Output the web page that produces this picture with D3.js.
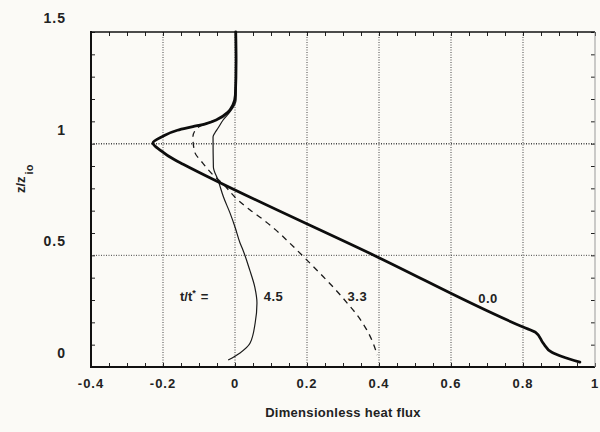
<!DOCTYPE html>
<html>
<head>
<meta charset="utf-8">
<script src="https://cdn.jsdelivr.net/npm/d3@7"></script>
<style>
  html, body { margin: 0; padding: 0; background: #fbfaf6; }
  svg { display: block; }
  text { font-family: "Liberation Sans", Arial, sans-serif; font-weight: bold; fill: #222; }
</style>
</head>
<body>
<svg id="chart" width="600" height="432"></svg>
<script>
// ---- data (flux, z/zio) ----
const xTickValues = [-0.4, -0.2, 0, 0.2, 0.4, 0.6, 0.8, 1];
const xTickLabels = ["-0.4", "-0.2", "0", "0.2", "0.4", "0.6", "0.8", "1"];
const yTickValues = [0, 0.5, 1, 1.5];
const yTickLabels = ["0", "0.5", "1", "1.5"];

const curve00 = [
  [0.002, 1.500], [0.003, 1.375], [0.001, 1.218], [-0.006, 1.173], [-0.020, 1.140],
  [-0.050, 1.108], [-0.080, 1.090], [-0.117, 1.076], [-0.160, 1.060], [-0.200, 1.033],
  [-0.228, 1.003], [-0.205, 0.968], [-0.170, 0.930], [-0.144, 0.908], [0.394, 0.494],
  [0.800, 0.179], [0.835, 0.155], [0.856, 0.107], [0.880, 0.066], [0.910, 0.046],
  [0.958, 0.022]
];
const curve33 = [
  [0.002, 1.500], [0.003, 1.375], [0.001, 1.218], [-0.006, 1.173], [-0.020, 1.140],
  [-0.050, 1.108], [-0.080, 1.090], [-0.105, 1.070], [-0.117, 1.030], [-0.112, 0.963],
  [-0.090, 0.914], [-0.061, 0.860], [-0.036, 0.824], [0.008, 0.748], [0.042, 0.703],
  [0.080, 0.658], [0.113, 0.614], [0.152, 0.555], [0.191, 0.493], [0.246, 0.403],
  [0.280, 0.345], [0.316, 0.278], [0.339, 0.233], [0.366, 0.166], [0.380, 0.121],
  [0.395, 0.054]
];
const curve45 = [
  [0.003, 1.500], [0.003, 1.375], [0.003, 1.196], [-0.014, 1.142], [-0.033, 1.106],
  [-0.047, 1.070], [-0.056, 1.048], [-0.061, 1.030], [-0.060, 0.896], [-0.047, 0.837],
  [-0.032, 0.761], [-0.014, 0.690], [0.000, 0.627], [0.014, 0.555], [0.022, 0.524],
  [0.041, 0.434], [0.055, 0.358], [0.061, 0.287], [0.056, 0.197], [0.042, 0.107],
  [0.014, 0.063], [-0.019, 0.031]
];
const curveLabels = [
  { text: "4.5", flux: 0.107, z: 0.32 },
  { text: "3.3", flux: 0.340, z: 0.32 },
  { text: "0.0", flux: 0.703, z: 0.31 }
];

// ---- layout ----
const svg = d3.select("#chart");
const mLeft = 91, mRight = 595, mTop = 32, mBottom = 367;
const x = d3.scaleLinear().domain([-0.4, 1]).range([mLeft, mRight]);
const y = d3.scaleLinear().domain([0, 1.5]).range([mBottom, mTop]);

// grid lines (dotted)
const grid = svg.append("g");
grid.selectAll("line.vg").data(xTickValues.filter(v => v > -0.4 && v < 1)).enter()
  .append("line")
  .attr("x1", d => x(d)).attr("x2", d => x(d))
  .attr("y1", mTop).attr("y2", mBottom)
  .attr("stroke", "#444").attr("stroke-width", 1).attr("stroke-dasharray", "1,1.5");
grid.selectAll("line.hg").data([0.5, 1]).enter()
  .append("line")
  .attr("x1", mLeft).attr("x2", mRight)
  .attr("y1", d => y(d)).attr("y2", d => y(d))
  .attr("stroke", "#444").attr("stroke-width", d => d === 1 ? 1.5 : 1)
  .attr("stroke-dasharray", "1,1.5");

// minor ticks via d3 axes (inward)
const xMinor = d3.range(-0.4, 1.0001, 0.05);
const yMinor = d3.range(0, 1.5001, 0.1);
function styleAxis(g) {
  g.select(".domain").remove();
  g.selectAll(".tick line").attr("stroke", "#222").attr("stroke-width", 1);
  g.selectAll(".tick text").remove();
}
svg.append("g").attr("transform", `translate(0,${mBottom})`)
  .call(d3.axisBottom(x).tickValues(xMinor).tickSize(-4).tickFormat("")).call(styleAxis);
svg.append("g").attr("transform", `translate(0,${mTop})`)
  .call(d3.axisTop(x).tickValues(xMinor).tickSize(-4).tickFormat("")).call(styleAxis);
svg.append("g").attr("transform", `translate(${mLeft},0)`)
  .call(d3.axisLeft(y).tickValues(yMinor).tickSize(-4).tickFormat("")).call(styleAxis);
svg.append("g").attr("transform", `translate(${mRight},0)`)
  .call(d3.axisRight(y).tickValues(yMinor).tickSize(-4).tickFormat("")).call(styleAxis);

// frame
svg.append("line").attr("x1", mLeft).attr("x2", mLeft).attr("y1", mTop - 1).attr("y2", mBottom + 1)
  .attr("stroke", "#111").attr("stroke-width", 2);
svg.append("line").attr("x1", mLeft).attr("x2", mRight).attr("y1", mBottom).attr("y2", mBottom)
  .attr("stroke", "#111").attr("stroke-width", 2);
svg.append("line").attr("x1", mLeft).attr("x2", mRight).attr("y1", mTop).attr("y2", mTop)
  .attr("stroke", "#111").attr("stroke-width", 1.5);
svg.append("line").attr("x1", mRight).attr("x2", mRight).attr("y1", mTop).attr("y2", mBottom)
  .attr("stroke", "#999").attr("stroke-width", 1);

// tick labels
svg.append("g").selectAll("text").data(xTickValues).enter().append("text")
  .attr("x", d => x(d)).attr("y", mBottom + 21)
  .attr("text-anchor", "middle").attr("font-size", 13).attr("letter-spacing", 1)
  .text((d, i) => xTickLabels[i]);
svg.append("g").selectAll("text").data(yTickValues).enter().append("text")
  .attr("x", 66).attr("y", d => y(d) - 9)
  .attr("text-anchor", "end").attr("font-size", 14).attr("letter-spacing", 1)
  .text((d, i) => yTickLabels[i]);

// axis titles
svg.append("text").attr("x", (mLeft + mRight) / 2).attr("y", 417)
  .attr("text-anchor", "middle").attr("font-size", 13).attr("letter-spacing", 0.3)
  .text("Dimensionless heat flux");
const yt = svg.append("text").attr("transform", "translate(25,193) rotate(-90)")
  .attr("font-size", 13);
yt.append("tspan").text("z/z");
yt.append("tspan").attr("dy", 8).attr("dx", 2).attr("font-size", 11).text("io");

// curves
const line = d3.line().x(d => x(d[0])).y(d => y(d[1])).curve(d3.curveMonotoneY);
svg.append("path").datum(curve45).attr("d", line)
  .attr("fill", "none").attr("stroke", "#1a1a1a").attr("stroke-width", 1.2);
svg.append("path").datum(curve33).attr("d", line)
  .attr("fill", "none").attr("stroke", "#1a1a1a").attr("stroke-width", 1.3)
  .attr("stroke-dasharray", "6,5");
svg.append("path").datum(curve00).attr("d", line)
  .attr("fill", "none").attr("stroke", "#0d0d0d").attr("stroke-width", 2.8)
  .attr("stroke-linejoin", "round").attr("stroke-linecap", "round");

// curve labels
const tl = svg.append("text").attr("x", 180).attr("y", y(0.32) + 5).attr("font-size", 13);
tl.append("tspan").text("t/t");
tl.append("tspan").attr("dy", -5).attr("font-size", 9).text("*");
tl.append("tspan").attr("dy", 5).attr("dx", 5).text("=");
svg.append("g").selectAll("text").data(curveLabels).enter().append("text")
  .attr("x", d => x(d.flux)).attr("y", d => y(d.z) + 5)
  .attr("text-anchor", "middle").attr("font-size", 13).attr("letter-spacing", 0.5)
  .text(d => d.text);
</script>
</body>
</html>
